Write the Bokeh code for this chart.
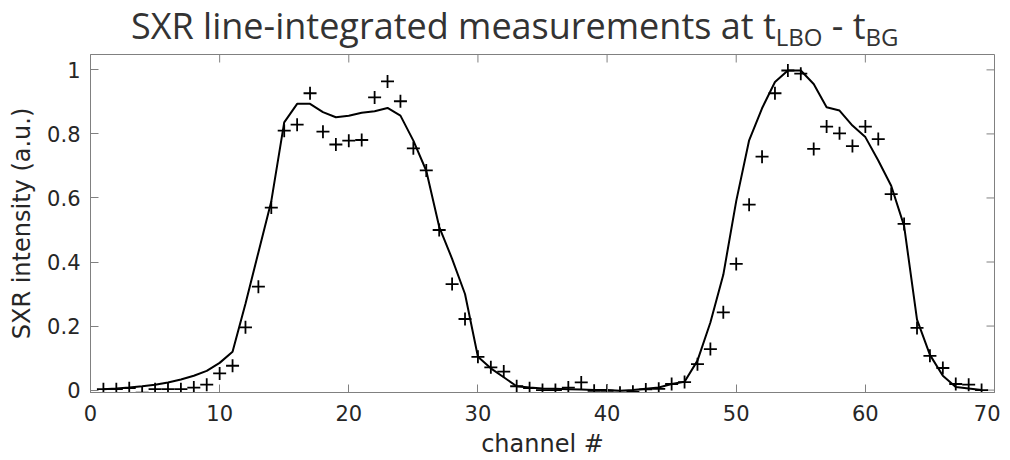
from bokeh.plotting import figure
from bokeh.models import Div, FixedTicker, Range1d
from bokeh.layouts import column
from bokeh.embed import file_html
from bokeh.resources import INLINE

channels = list(range(1, 70))
measured = [0.003, 0.003, 0.006, -0.008, 0.003, 0.003, 0.003, 0.008, 0.017, 0.052,
            0.076, 0.196, 0.323, 0.57, 0.81, 0.829, 0.927, 0.807, 0.767, 0.779,
            0.781, 0.914, 0.964, 0.902, 0.755, 0.686, 0.50, 0.331, 0.222, 0.104,
            0.071, 0.058, 0.012, 0.006, 0.0, 0.0, 0.008, 0.024, -0.002, -0.002,
            -0.008, -0.005, 0.002, 0.004, 0.019, 0.025, 0.081, 0.128, 0.243, 0.394,
            0.579, 0.729, 0.927, 0.998, 0.988, 0.753, 0.823, 0.802, 0.762, 0.823,
            0.784, 0.612, 0.519, 0.194, 0.107, 0.069, 0.019, 0.017, 0.0]
reconstructed = [0.003, 0.005, 0.008, 0.012, 0.017, 0.024, 0.033, 0.045, 0.06, 0.085,
                 0.12, 0.27, 0.43, 0.59, 0.836, 0.894, 0.894, 0.868, 0.852, 0.857,
                 0.866, 0.871, 0.881, 0.857, 0.779, 0.685, 0.51, 0.41, 0.30, 0.104,
                 0.068, 0.04, 0.012, 0.008, 0.005, 0.004, 0.003, 0.002, 0.0, 0.0,
                 -0.002, 0.0, 0.004, 0.008, 0.019, 0.026, 0.092, 0.211, 0.36, 0.59,
                 0.78, 0.88, 0.962, 0.998, 0.998, 0.956, 0.883, 0.873, 0.826, 0.79,
                 0.717, 0.638, 0.513, 0.22, 0.11, 0.045, 0.01, 0.005, 0.0]
x_ticks = [0, 10, 20, 30, 40, 50, 60, 70]
y_ticks = [0, 0.2, 0.4, 0.6, 0.8, 1]
y_tick_labels = {0: "0", 0.2: "0.2", 0.4: "0.4", 0.6: "0.6", 0.8: "0.8", 1: "1"}

X_MIN, X_MAX = 0, 70
Y_MIN, Y_MAX = -0.0075, 1.048

AX = "#808080"
TXT = "#262626"

title_html = (
    '<div style="font-family:\'Open Sans\'; font-size:36px; line-height:36px; '
    'color:#333333; white-space:nowrap; padding:8px 0 0 131px; margin:0;">'
    'SXR line-integrated measurements at t'
    '<sub style="font-size:24px; line-height:24px; vertical-align:-7px;">LBO</sub>'
    ' - t'
    '<sub style="font-size:24px; line-height:24px; vertical-align:-7px;">BG</sub></div>'
)
title_div = Div(text=title_html, width=1000, height=50, margin=(0, 0, 0, 0))

p = figure(width=1000, height=410, output_backend="svg", toolbar_location=None,
           x_range=Range1d(X_MIN, X_MAX), y_range=Range1d(Y_MIN, Y_MAX),
           min_border_left=90, min_border_right=6, min_border_top=4, min_border_bottom=68,
           margin=(0, 0, 0, 0))
p.grid.visible = False
p.outline_line_color = AX
p.outline_line_width = 1
p.background_fill_color = "white"
p.border_fill_color = "white"

# inward ticks on the top and right edges of the box (derived from the tick lists)
tick_len_y = 8 * (Y_MAX - Y_MIN) / 338.0
tick_len_x = 8 * (X_MAX - X_MIN) / 904.0
p.segment(x0=x_ticks, y0=[Y_MAX] * len(x_ticks), x1=x_ticks, y1=[Y_MAX - tick_len_y] * len(x_ticks),
          line_color=AX, line_width=1)
p.segment(x0=[X_MAX] * len(y_ticks), y0=y_ticks, x1=[X_MAX - tick_len_x] * len(y_ticks), y1=y_ticks,
          line_color=AX, line_width=1)

p.line(channels, reconstructed, line_color="black", line_width=2)
p.scatter(channels, measured, marker="cross", size=13, line_color="black", line_width=1.8)

for ax in (p.xaxis[0], p.yaxis[0]):
    ax.axis_line_color = AX
    ax.major_tick_line_color = AX
    ax.major_tick_in = 8
    ax.major_tick_out = 0
    ax.minor_tick_line_color = None
    ax.major_label_text_font = "DejaVu Sans"
    ax.major_label_text_font_size = "21px"
    ax.major_label_text_color = TXT
    ax.axis_label_text_font = "DejaVu Sans"
    ax.axis_label_text_font_size = "24px"
    ax.axis_label_text_font_style = "normal"
    ax.axis_label_text_color = TXT

xa = p.xaxis[0]
xa.ticker = FixedTicker(ticks=x_ticks)
xa.axis_label = "channel #"
xa.major_label_standoff = 12
xa.axis_label_standoff = 6

ya = p.yaxis[0]
ya.ticker = FixedTicker(ticks=y_ticks)
ya.major_label_overrides = y_tick_labels
ya.axis_label = "SXR intensity (a.u.)"
ya.major_label_standoff = 10
ya.axis_label_standoff = 8

layout = column(title_div, p, spacing=0)
open("out.html", "w").write(file_html(layout, INLINE))
